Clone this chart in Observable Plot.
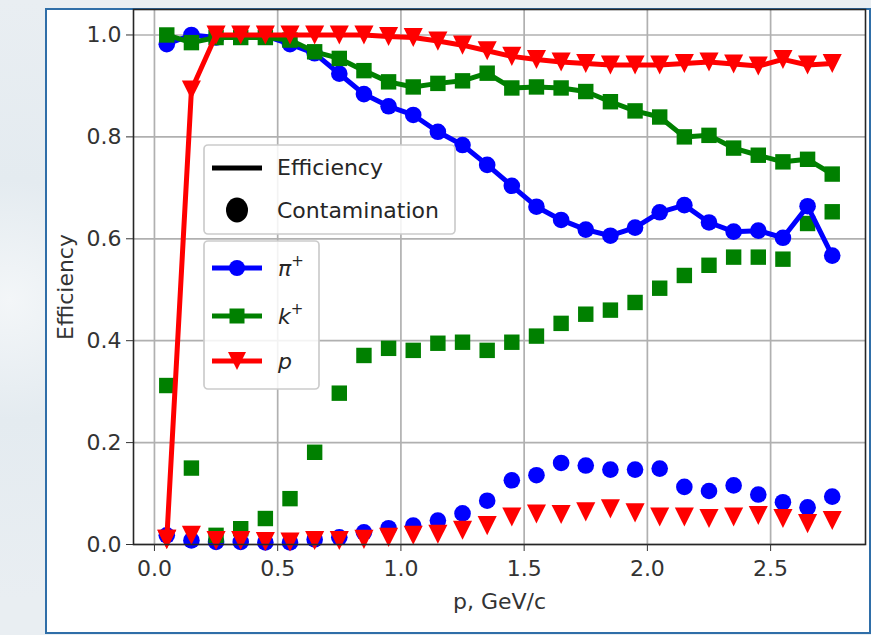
<!DOCTYPE html>
<html><head><meta charset="utf-8">
<script src="https://cdn.jsdelivr.net/npm/d3@7"></script>
<script src="https://cdn.jsdelivr.net/npm/@observablehq/plot@0.6"></script>
<style>
body{margin:0;width:871px;height:635px;overflow:hidden;background:#e7edf1;font-family:"DejaVu Sans",sans-serif;position:relative}
#bg{position:absolute;left:0;top:0;width:871px;height:635px;background:radial-gradient(circle at 10px 300px,#f3f6f8 0,#e4ebf0 120px,#e9eef2 300px)}
#panel{position:absolute;left:45px;top:8px;width:822px;height:622px;background:#fff;border:2px solid #2f6ea8;}
#chart{position:absolute;left:0;top:0;}
</style></head><body>
<div id="bg"></div><div id="panel"></div><div id="chart"></div>
<script>
// momentum bins (GeV/c)
const p = [0.05,0.15,0.25,0.35,0.45,0.55,0.65,0.75,0.85,0.95,1.05,1.15,1.25,1.35,1.45,1.55,1.65,1.75,1.85,1.95,2.05,2.15,2.25,2.35,2.45,2.55,2.65,2.75];
// efficiencies
const effPi = [0.982,1.0,0.995,0.998,0.998,0.982,0.964,0.924,0.884,0.86,0.843,0.81,0.784,0.745,0.704,0.663,0.637,0.618,0.606,0.622,0.652,0.666,0.632,0.614,0.616,0.602,0.664,0.567];
const effK  = [1.0,0.985,0.995,0.995,0.995,0.99,0.967,0.954,0.93,0.908,0.898,0.905,0.91,0.925,0.896,0.898,0.896,0.889,0.869,0.851,0.839,0.80,0.803,0.778,0.764,0.751,0.756,0.727];
const effP  = [0.01,0.892,1.0,1.0,1.0,1.0,1.0,1.0,1.0,0.997,0.995,0.988,0.98,0.969,0.958,0.952,0.947,0.944,0.941,0.941,0.941,0.944,0.947,0.943,0.939,0.952,0.941,0.944];
// contaminations
const contPi = [0.018,0.008,0.005,0.005,0.004,0.004,0.01,0.014,0.024,0.032,0.037,0.047,0.061,0.086,0.126,0.136,0.16,0.155,0.147,0.147,0.149,0.113,0.105,0.116,0.098,0.083,0.073,0.094];
const contK  = [0.312,0.15,0.018,0.031,0.051,0.09,0.181,0.297,0.371,0.385,0.381,0.395,0.397,0.381,0.397,0.409,0.434,0.452,0.46,0.475,0.503,0.528,0.548,0.564,0.564,0.56,0.63,0.653];
const contP  = [0.01,0.018,0.008,0.008,0.006,0.005,0.008,0.008,0.01,0.014,0.018,0.02,0.028,0.037,0.054,0.06,0.059,0.064,0.07,0.062,0.054,0.054,0.051,0.054,0.057,0.051,0.041,0.047];
// ticks
const xTicks = [0,0.5,1.0,1.5,2.0,2.5];
const yTicks = [0,0.2,0.4,0.6,0.8,1.0];

const rows = p.map((x,i)=>({p:x, effPi:effPi[i], effK:effK[i], effP:effP[i], contPi:contPi[i], contK:contK[i], contP:contP[i]}));

const BLUE="#0000ff", GREEN="#008000", RED="#ff0000";
const triDown = {draw(ctx, size){ const r=Math.sqrt(size/Math.PI); const h=r*1.15; ctx.moveTo(-h,-h); ctx.lineTo(h,-h); ctx.lineTo(0,h); ctx.closePath(); }};

const chart = Plot.plot({
  width:871, height:635,
  marginLeft:133, marginRight:6, marginTop:9, marginBottom:91,
  style:{background:"transparent", fontFamily:"DejaVu Sans", overflow:"visible"},
  x:{domain:[-0.085,2.885]},
  y:{domain:[0,1.05]},
  marks:[
    Plot.ruleX(xTicks,{x:d=>d, stroke:"#b0b0b0", strokeWidth:1.7}),
    Plot.ruleY(yTicks,{y:d=>d, stroke:"#b0b0b0", strokeWidth:1.7}),
    // contamination markers
    Plot.dot(rows,{x:"p", y:"contPi", r:8.3, fill:BLUE, symbol:"circle"}),
    Plot.dot(rows,{x:"p", y:"contK", r:8.7, fill:GREEN, symbol:"square"}),
    Plot.dot(rows,{x:"p", y:"contP", r:8.3, fill:RED, symbol:triDown}),
    // efficiency lines with markers
    Plot.line(rows,{x:"p", y:"effPi", stroke:BLUE, strokeWidth:5}),
    Plot.dot(rows,{x:"p", y:"effPi", r:8.3, fill:BLUE, symbol:"circle"}),
    Plot.line(rows,{x:"p", y:"effK", stroke:GREEN, strokeWidth:5}),
    Plot.dot(rows,{x:"p", y:"effK", r:8.7, fill:GREEN, symbol:"square"}),
    Plot.line(rows,{x:"p", y:"effP", stroke:RED, strokeWidth:5}),
    Plot.dot(rows,{x:"p", y:"effP", r:8.3, fill:RED, symbol:triDown}),
    Plot.frame({stroke:"#262626", strokeWidth:1.6}),
    Plot.axisX(xTicks,{tickSize:7, tickPadding:9, fontSize:22, tickFormat:d=>d.toFixed(1), label:null, color:"#333"}),
    Plot.axisY(yTicks,{tickSize:7, tickPadding:5, fontSize:22, tickFormat:d=>d.toFixed(1), label:null, color:"#333"}),
    Plot.text(["p, GeV/c"],{text:d=>d, frameAnchor:"bottom", dy:64, fontSize:22, fill:"#333"})
  ]
});
document.getElementById("chart").appendChild(chart);

const svg = d3.select(chart);
// y axis title
svg.append("text").attr("transform","translate(65,287) rotate(-90)").attr("text-anchor","middle")
  .attr("dy","0.35em").attr("font-family","DejaVu Sans").attr("font-size",22).attr("fill","#333").text("Efficiency");

// legends
const g = svg.append("g").attr("font-family","DejaVu Sans").attr("font-size",22).attr("fill","#262626").attr("text-anchor","start");
function box(x,y,w,h){
  g.append("rect").attr("x",x).attr("y",y).attr("width",w).attr("height",h).attr("rx",4)
   .attr("fill","white").attr("fill-opacity",0.85).attr("stroke","#cccccc").attr("stroke-width",1.7);
}
box(204,145,251,89);
g.append("line").attr("x1",212).attr("x2",262).attr("y1",168).attr("y2",168).attr("stroke","#000").attr("stroke-width",5);
g.append("text").attr("x",277).attr("y",167).attr("dy","0.35em").text("Efficiency");
g.append("ellipse").attr("cx",237).attr("cy",210).attr("rx",11).attr("ry",12.5).attr("fill","#000");
g.append("text").attr("x",277).attr("y",210).attr("dy","0.35em").text("Contamination");

box(204,241,115,148);
const entries = [
  {y:268, color:BLUE, sym:"circle", label:"π"},
  {y:316, color:GREEN, sym:"square", label:"k"},
  {y:361, color:RED, sym:"tri", label:"p"}
];
for (const e of entries){
  g.append("line").attr("x1",212).attr("x2",262).attr("y1",e.y).attr("y2",e.y).attr("stroke",e.color).attr("stroke-width",5);
  if (e.sym==="circle") g.append("circle").attr("cx",237).attr("cy",e.y).attr("r",8).attr("fill",e.color);
  else if (e.sym==="square") g.append("rect").attr("x",229.5).attr("y",e.y-7.5).attr("width",15).attr("height",15).attr("fill",e.color);
  else g.append("path").attr("d",`M${237-9},${e.y-9}L${237+9},${e.y-9}L237,${e.y+9}Z`).attr("fill",e.color);
  const t = g.append("text").attr("x",278).attr("y",e.y).attr("dy","0.35em");
  t.append("tspan").attr("font-style","italic").text(e.label);
  if (e.label!=="p") t.append("tspan").attr("dy",-10).attr("font-size",15).text("+");
}
</script></body></html>
